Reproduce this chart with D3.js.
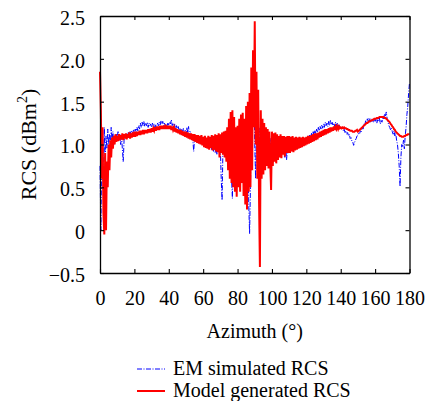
<!DOCTYPE html>
<html><head><meta charset="utf-8">
<script src="https://cdn.jsdelivr.net/npm/d3@7"></script>
<style>
@font-face{font-family:"RefSerif";src:local("Liberation Serif"),local("LiberationSerif"),local("LiberationSerif-Regular"),local("Tinos"),local("Times New Roman");}
html,body{margin:0;background:#fff;font-family:"Liberation Serif","Tinos","Times New Roman"}
svg text, svg tspan{font-family:"Liberation Serif","RefSerif","Tinos","Times New Roman"}
</style>
</head><body><svg id="c" width="429" height="401"></svg>
<script>
// Azimuth sampling grid (degrees), 0.5° step
const azimuth = d3.range(0, 180.001, 0.5);
// Model generated RCS (red), one value per 0.5°
const modelRCS = [
1.85,1.4,0.6,1.2,0.2,-0.05,0.9,0.0,0.8,0.5,1.0,0.7,1.05,0.85,1.08,0.95,1.1,1.0,1.12,1.03,
1.10,1.04,1.12,1.05,1.11,1.06,1.13,1.05,1.12,1.07,1.13,1.06,1.12,1.08,1.14,1.07,1.13,1.08,1.14,1.09,
1.15,1.09,1.15,1.10,1.15,1.11,1.16,1.11,1.16,1.12,1.17,1.12,1.17,1.13,1.17,1.13,1.18,1.14,1.18,1.14,
1.19,1.15,1.19,1.16,1.20,1.16,1.21,1.17,1.21,1.17,1.22,1.18,1.22,1.18,1.22,1.18,1.23,1.18,1.22,1.18,
1.22,1.18,1.22,1.17,1.21,1.17,1.20,1.15,1.19,1.14,1.18,1.13,1.17,1.12,1.17,1.11,1.16,1.10,1.15,1.09,
1.15,1.08,1.14,1.07,1.13,1.06,1.13,1.05,1.12,1.04,1.12,1.03,1.11,1.02,1.11,1.01,1.10,1.00,1.11,0.99,
1.09,0.97,1.10,0.96,1.08,0.95,1.10,0.94,1.09,0.96,1.11,0.93,1.10,0.94,1.12,0.92,1.11,0.91,1.13,0.85,
1.12,0.90,1.14,0.88,1.15,0.85,1.16,0.80,1.20,0.70,1.30,0.60,1.38,0.55,1.40,0.50,1.32,0.45,1.20,0.39,
1.22,0.50,1.30,0.45,1.35,0.55,1.37,0.40,1.30,0.30,1.45,0.24,1.50,0.45,1.60,0.50,1.90,0.70,2.10,1.20,
2.44,1.00,1.85,0.60,1.64,0.35,-0.43,1.40,0.60,1.30,0.65,1.25,0.70,1.20,0.75,1.18,0.72,1.15,0.80,0.47,
1.15,0.75,1.13,0.80,1.14,0.78,1.12,0.82,1.10,0.85,1.12,0.84,1.10,0.88,1.10,0.86,1.09,0.90,1.10,0.90,
1.10,0.90,1.09,0.92,1.10,0.91,1.08,0.93,1.09,0.94,1.08,0.95,1.09,0.96,1.08,0.97,1.09,0.98,1.08,0.99,
1.09,1.00,1.10,1.01,1.10,1.02,1.11,1.03,1.12,1.04,1.13,1.05,1.13,1.06,1.14,1.08,1.15,1.09,1.16,1.10,
1.17,1.11,1.18,1.12,1.18,1.13,1.19,1.14,1.20,1.15,1.20,1.16,1.21,1.17,1.21,1.18,1.21,1.18,1.21,1.19,
1.20,1.19,1.20,1.19,1.20,1.19,1.19,1.18,1.18,1.17,1.17,1.16,1.16,1.16,1.15,1.15,1.15,1.16,1.16,1.17,
1.15,1.16,1.17,1.18,1.19,1.20,1.21,1.22,1.23,1.24,1.25,1.25,1.26,1.27,1.27,1.28,1.28,1.29,1.29,1.30,
1.30,1.30,1.31,1.31,1.31,1.32,1.32,1.32,1.32,1.32,1.32,1.31,1.31,1.30,1.29,1.28,1.27,1.26,1.24,1.23,
1.21,1.20,1.18,1.17,1.15,1.14,1.13,1.12,1.11,1.10,1.10,1.09,1.09,1.09,1.10,1.10,1.11,1.11,1.12,1.12,
1.12];
// EM simulated RCS (blue), one value per 0.5°
const emRCS = [
0.75,0.0,0.9,1.15,0.4,1.2,0.8,1.1,0.95,1.18,1.0,1.12,0.98,1.2,1.05,1.15,1.0,1.1,1.05,1.12,
1.08,1.15,1.05,1.12,1.0,1.1,0.95,0.8,1.05,1.1,1.08,1.13,1.1,1.14,1.1,1.15,1.12,1.16,1.13,1.17,
1.14,1.18,1.15,1.2,1.16,1.22,1.18,1.25,1.2,1.26,1.22,1.27,1.21,1.25,1.22,1.26,1.2,1.25,1.22,1.24,
1.2,1.25,1.21,1.24,1.2,1.23,1.21,1.25,1.22,1.26,1.23,1.28,1.24,1.27,1.22,1.25,1.22,1.24,1.21,1.25,
1.22,1.26,1.24,1.29,1.22,1.25,1.2,1.24,1.19,1.22,1.17,1.21,1.16,1.19,1.14,1.18,1.15,1.19,1.12,1.17,
1.12,1.2,1.14,1.21,1.1,1.15,1.08,1.12,1.05,0.92,1.08,1.1,1.05,1.1,1.04,1.09,1.03,1.08,1.02,1.07,
1.0,1.06,0.99,1.05,0.98,1.06,0.97,1.04,0.96,1.03,0.94,1.02,0.92,1.0,0.9,0.98,0.88,0.97,0.92,1.0,
0.95,0.6,0.35,0.95,1.02,0.9,1.05,0.85,1.0,0.8,1.05,0.7,0.95,0.6,0.37,0.9,1.0,0.7,1.05,0.65,
1.0,0.7,1.05,0.6,1.1,0.55,0.95,0.5,1.0,0.45,1.05,0.4,1.1,0.3,-0.04,0.5,1.2,1.4,1.6,1.85,
1.0,0.6,1.3,0.7,1.25,0.75,1.2,0.8,1.15,0.85,1.1,0.85,1.12,0.9,1.1,0.9,1.08,0.92,1.07,0.93,
1.05,0.95,1.06,0.92,1.05,0.95,1.04,0.9,1.05,0.95,1.03,0.88,1.02,0.95,1.0,0.85,0.98,0.82,0.95,0.9,
1.0,0.92,1.02,0.95,1.0,0.93,1.03,0.96,1.02,0.97,1.04,0.98,1.05,0.99,1.05,1.0,1.06,1.01,1.07,1.02,
1.08,1.04,1.1,1.05,1.11,1.07,1.13,1.09,1.15,1.1,1.16,1.12,1.18,1.14,1.2,1.16,1.21,1.18,1.23,1.19,
1.24,1.2,1.26,1.22,1.25,1.21,1.27,1.22,1.28,1.23,1.26,1.22,1.25,1.21,1.26,1.22,1.25,1.2,1.23,1.19,
1.21,1.18,1.2,1.16,1.18,1.14,1.16,1.12,1.14,1.1,1.12,1.07,1.08,1.04,1.03,0.99,1.02,1.05,1.07,1.1,
1.11,1.14,1.13,1.16,1.15,1.2,1.18,1.24,1.22,1.28,1.26,1.3,1.27,1.31,1.26,1.3,1.27,1.29,1.26,1.3,
1.27,1.3,1.25,1.29,1.27,1.31,1.24,1.28,1.26,1.32,1.3,1.36,1.33,1.38,1.3,1.26,1.22,1.2,1.17,1.19,
1.15,1.12,1.16,1.1,1.13,1.05,1.0,0.9,0.75,0.51,0.85,1.0,0.97,1.05,0.95,1.1,1.2,1.35,1.45,1.6,
1.72];
const xTicks = [0,20,40,60,80,100,120,140,160,180];
const yTicks = [-0.5,0,0.5,1.0,1.5,2.0,2.5];
const yTickLabels = ["\u22120.5","0","0.5","1.0","1.5","2.0","2.5"];
const seriesNames = ["EM simulated RCS","Model generated RCS"];

const FONT = '"Liberation Serif", "RefSerif", "Tinos", "Times New Roman"';
const svg = d3.select("#c");
const L=100, R=409.5, T=16, B=273;
const x = d3.scaleLinear().domain([0,180]).range([L,R]);
const y = d3.scaleLinear().domain([-0.5,2.5]).range([B,T]);
const FS = 20;

const line = d3.line().x((d,i)=>x(azimuth[i])).y(d=>y(d));
svg.append("path").datum(emRCS).attr("d",line).attr("fill","none")
  .attr("stroke","#0000ff").attr("stroke-width",1).attr("stroke-dasharray","5,1.5,1,1.5");
svg.append("path").datum(modelRCS).attr("d",line).attr("fill","none")
  .attr("stroke","#ff0000").attr("stroke-width",2).attr("stroke-linejoin","miter");

function txt(sel, fs){ return sel.style("font-family",FONT).style("font-size",(fs||FS)+"px").attr("fill","#000"); }

// axes with inward ticks
const tk = 4;
const gB = svg.append("g").attr("transform",`translate(0,${B})`)
  .call(d3.axisBottom(x).tickValues(xTicks).tickSizeInner(-tk).tickSizeOuter(0).tickPadding(18));
const gT = svg.append("g").attr("transform",`translate(0,${T})`)
  .call(d3.axisTop(x).tickValues(xTicks).tickSizeInner(-tk).tickSizeOuter(0).tickFormat(""));
const gL = svg.append("g").attr("transform",`translate(${L},0)`)
  .call(d3.axisLeft(y).tickValues(yTicks).tickSizeInner(-tk).tickSizeOuter(0).tickPadding(15)
    .tickFormat((d,i)=>yTickLabels[i]));
const gR = svg.append("g").attr("transform",`translate(${R},0)`)
  .call(d3.axisRight(y).tickValues(yTicks).tickSizeInner(-tk).tickSizeOuter(0).tickFormat(""));
[gB,gT,gL,gR].forEach(g=>{
  g.attr("font-family",null).attr("font-size",null);
  g.select(".domain").attr("stroke","#000").attr("stroke-width",1.3);
  g.selectAll(".tick line").attr("stroke","#000").attr("stroke-width",1.1);
  txt(g.selectAll("text"));
});
gL.selectAll("text").attr("dy","0.42em");

// axis titles
txt(svg.append("text").attr("x",(L+R)/2).attr("y",338).attr("text-anchor","middle")).text("Azimuth (°)");
const yl = txt(svg.append("text").attr("transform",`translate(36,${(T+B)/2}) rotate(-90)`)
  .attr("text-anchor","middle"), 22);
yl.append("tspan").text("RCS (dBm");
yl.append("tspan").style("font-size","14px").attr("dy",-9).text("2");
yl.append("tspan").attr("dy",9).text(")");

// legend
const lg = svg.append("g");
const ly = [369, 391];
lg.append("line").attr("x1",137).attr("x2",165).attr("y1",ly[0]).attr("y2",ly[0])
  .attr("stroke","#0000ff").attr("stroke-width",1).attr("stroke-dasharray","5,1.5,1,1.5");
lg.append("line").attr("x1",137).attr("x2",165).attr("y1",ly[1]).attr("y2",ly[1])
  .attr("stroke","#ff0000").attr("stroke-width",2);
seriesNames.forEach((n,i)=>{
  txt(lg.append("text").attr("x",173).attr("y",ly[i]+6)).text(n);
});
</script></body></html>
